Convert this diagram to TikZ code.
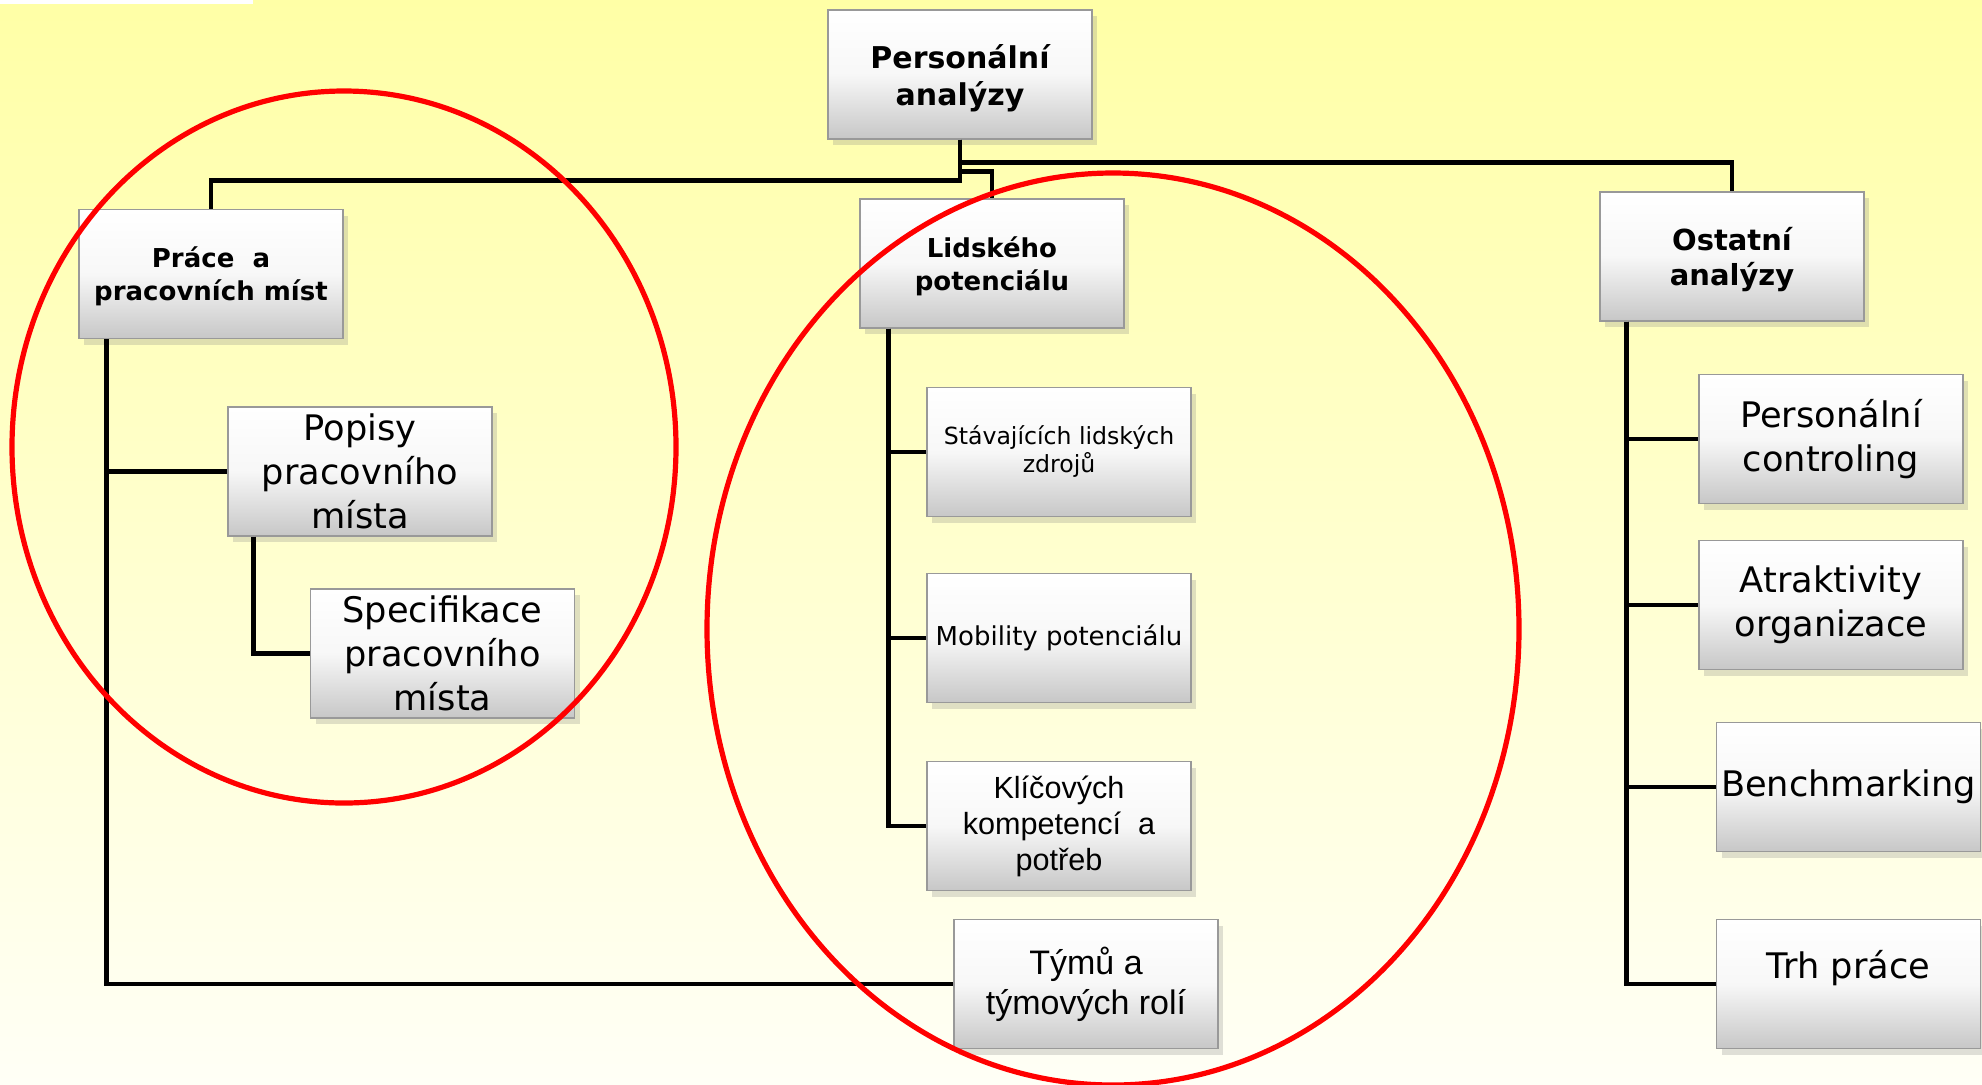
\documentclass[tikz,border=0pt]{standalone}
\usepackage{fontspec}
\setmainfont{DejaVu Sans}
\newfontfamily\arialfont{Liberation Sans}
\usetikzlibrary{shadows}
\definecolor{bgtop}{RGB}{255,255,166}
\definecolor{bgbot}{RGB}{255,255,246}

\tikzset{
  box/.style={draw=black!40, line width=0.6pt, top color=white, bottom color=black!22, middle color=black!3,
    minimum width=132pt, minimum height=64.5pt, inner sep=1pt, align=center,
    drop shadow={opacity=0.25, shadow xshift=2.5pt, shadow yshift=-3pt}},
  headbox/.style={box, font=\bfseries\fontsize{13}{16.5}\selectfont, text depth=-1pt},
  leafbox/.style={box, font=\fontsize{17.6}{22}\selectfont},
  link/.style={line width=2.4pt, black},
  ring/.style={line width=2.6pt, red},
}

\begin{document}
\begin{tikzpicture}[x=0.5pt, y=-0.5pt]
\useasboundingbox (0,0) rectangle (1982,1084);
%background
\shade[top color=bgtop, bottom color=bgbot] (0,0) rectangle (1982,1084);
\fill[white] (0,0) rectangle (253,4);

%top level
\node[headbox, font=\bfseries\fontsize{15}{18.5}\selectfont] (top) at (960,74.5) {Personální\\analýzy};
\node[headbox] (prace) at (211,274) {Práce \ a\\pracovních míst};
\node[headbox] (lidsk) at (992,263.5) {Lidského\\potenciálu};
\node[headbox, font=\bfseries\fontsize{14.5}{17.7}\selectfont] (ostatni) at (1732,256.5) {Ostatní\\analýzy};

%left
\node[leafbox] (popisy) at (360,471.5) {Popisy\\pracovního\\místa};
\node[leafbox] (spec) at (442.5,653.5) {Specifikace\\pracovního\\místa};
%middle
\node[leafbox, font=\fontsize{11.8}{14}\selectfont] (stav) at (1059,452) {Stávajících lidských\\zdrojů};
\node[leafbox, font=\fontsize{13}{15}\selectfont] (mob) at (1059,638) {Mobility potenciálu};
\node[leafbox, font=\arialfont\fontsize{15.3}{18}\selectfont] (klic) at (1059,826) {Klíčových\\kompetencí \ a\\potřeb};
\node[leafbox, font=\arialfont\fontsize{17}{20}\selectfont] (tymy) at (1086,984) {Týmů a\\týmových rolí};
%right
\node[leafbox] (pc) at (1831,439) {Personální\\controling};
\node[leafbox] (atr) at (1831,605) {Atraktivity\\organizace};
\node[leafbox] (bench) at (1848.5,787) {Benchmarking};
\node[leafbox, text height=12pt, text depth=18pt] (trh) at (1848.5,984) {Trh práce};

%connectors
\draw[link] (top.south) -- ++(0,41) -| (prace.north);
\draw[link] (top.south) -- ++(0,23) -| (ostatni.north);
\draw[link] (top.south) -- ++(0,32) -| (lidsk.north);
\draw[link] ([xshift=14pt]prace.south west) |- (popisy.west);
\draw[link] ([xshift=14pt]prace.south west) |- (tymy.west);
\draw[link] ([xshift=13pt]popisy.south west) |- (spec.west);
\foreach \n in {stav,mob,klic}
  \draw[link] ([xshift=14.5pt]lidsk.south west) |- (\n.west);
\foreach \n in {pc,atr,bench,trh}
  \draw[link] ([xshift=13.5pt]ostatni.south west) |- (\n.west);

%rings
\draw[ring] (344,447) ellipse [x radius=332, y radius=356];
\draw[ring] (1113,629) ellipse [x radius=406, y radius=456];
\end{tikzpicture}
\end{document}
